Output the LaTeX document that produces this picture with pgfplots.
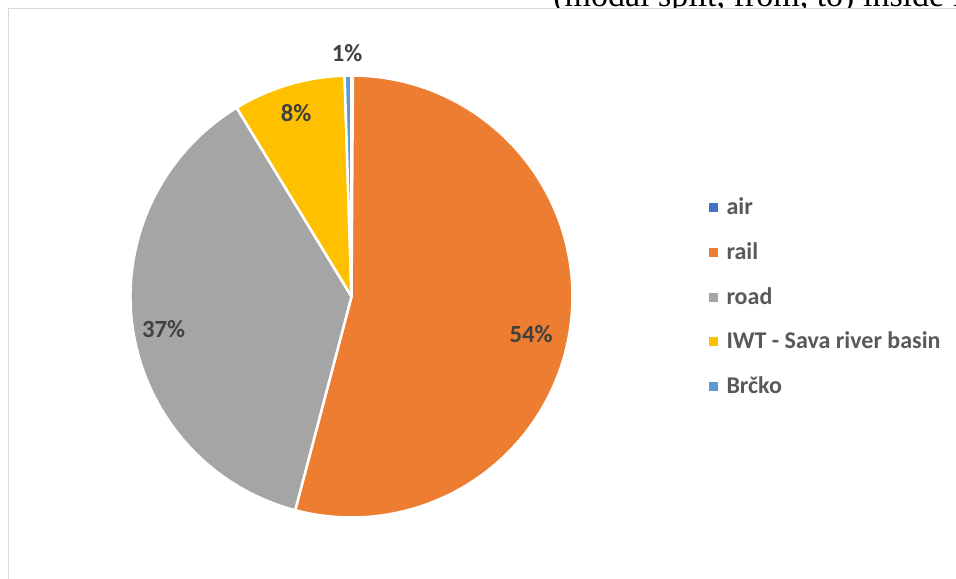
\documentclass[border=0pt]{standalone}
\usepackage{fontspec}
\setmainfont{Carlito}
\newfontfamily\titlefont{Liberation Serif}
\usepackage{pgfplots}
\pgfplotsset{compat=1.18}
\usepackage{pgfplotstable}
\definecolor{slice0}{HTML}{4472C4}
\definecolor{slice1}{HTML}{ED7D31}
\definecolor{slice2}{HTML}{A5A5A5}
\definecolor{slice3}{HTML}{FFC000}
\definecolor{slice4}{HTML}{5B9BD5}
\definecolor{labtext}{HTML}{404040}
\definecolor{legtext}{HTML}{595959}
\definecolor{framec}{HTML}{D9D9D9}

% modal split shares (percent)
\pgfplotstableread{
name value
air 0.1
rail 54.0
road 37.2
IWT 8.2
Brcko 0.5
}\piedata

\begin{document}
\begin{tikzpicture}
\gdef\cumval{0}
\foreach \i in {0,...,4}{
  \pgfplotstablegetelem{\i}{value}\of\piedata
  \pgfmathsetmacro\myval{\pgfplotsretval}
  \pgfmathsetmacro\mysa{90-3.6*\cumval}
  \pgfmathsetmacro\myea{90-3.6*(\cumval+\myval)}
  \expandafter\xdef\csname sa\i\endcsname{\mysa}
  \expandafter\xdef\csname ea\i\endcsname{\myea}
  \pgfmathsetmacro\mycum{\cumval+\myval}
  \xdef\cumval{\mycum}
}
\useasboundingbox (0,0) rectangle (717pt,433.5pt);
\clip (0,0) rectangle (717pt,433.5pt);
\begin{axis}[
  at={(0,0)}, anchor=south west,
  scale only axis, width=717pt, height=433.5pt,
  xmin=0, xmax=956, ymin=0, ymax=578, y dir=reverse,
  hide axis, clip=false,
  legend cell align=left,
  legend style={at={(axis cs:709.3,197.2)}, anchor=north west,
    draw=none, fill=none, inner sep=0pt, outer sep=0pt,
    row sep=18.6pt, column sep=6.5pt,
    font=\fontsize{18}{21}\selectfont\bfseries, text=legtext,
    nodes={inner sep=0pt, text height=13pt, text depth=2pt}},
]
\node[anchor=base west, inner sep=0pt, font=\titlefont\fontsize{25.5}{30}\selectfont]
  at (axis cs:553,7) {(modal split, from, to) inside BiH};
\fill[white] (axis cs:8,8.2) rectangle (axis cs:960,580);
\draw[framec, line width=1.1pt] (axis cs:8.7,580) |- (axis cs:960,8.7);

\pgfplotsinvokeforeach{0,...,4}{
  \filldraw[fill=slice#1, draw=white, line width=1.9pt, line join=round]
    (axis cs:351.5,296.5) -- ++(\csname sa#1\endcsname:165.75pt)
    arc[start angle=\csname sa#1\endcsname, end angle=\csname ea#1\endcsname, radius=165.75pt]
    -- cycle;
}

\begin{scope}[every node/.style={font=\fontsize{18.5}{22}\selectfont\bfseries, text=labtext}]
\node at (axis cs:531,334) {54\%};
\node at (axis cs:163.7,328.7) {37\%};
\node at (axis cs:296,113) {8\%};
\node at (axis cs:347,53) {1\%};
\end{scope}

\addlegendimage{legend image code/.code={\fill[slice0] (0pt,-3pt) rectangle (6pt,3pt);}}
\addlegendentry{air}
\addlegendimage{legend image code/.code={\fill[slice1] (0pt,-3pt) rectangle (6pt,3pt);}}
\addlegendentry{rail}
\addlegendimage{legend image code/.code={\fill[slice2] (0pt,-3pt) rectangle (6pt,3pt);}}
\addlegendentry{road}
\addlegendimage{legend image code/.code={\fill[slice3] (0pt,-3pt) rectangle (6pt,3pt);}}
\addlegendentry{IWT - Sava river basin}
\addlegendimage{legend image code/.code={\fill[slice4] (0pt,-3pt) rectangle (6pt,3pt);}}
\addlegendentry{Brčko}
\end{axis}
\end{tikzpicture}
\end{document}
